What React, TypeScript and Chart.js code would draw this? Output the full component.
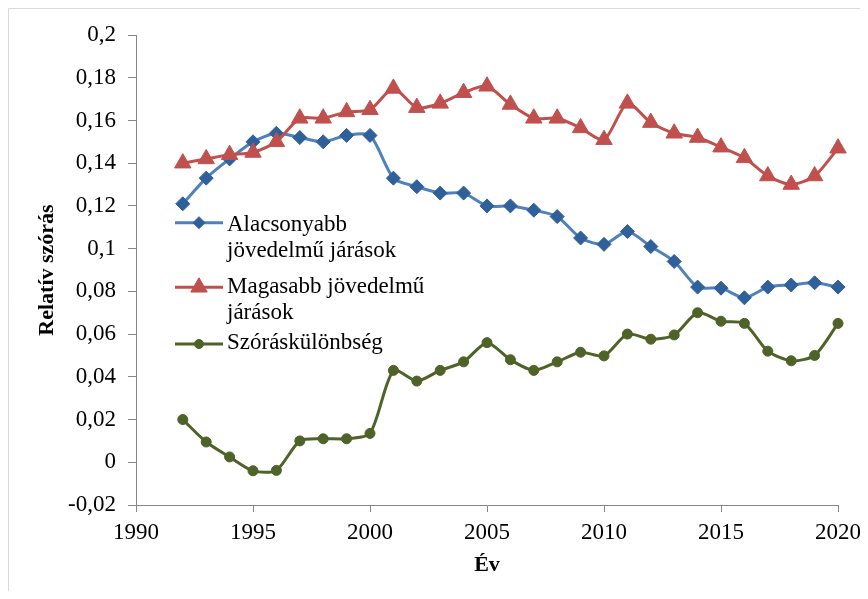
import React, { useEffect, useRef } from 'react';
import { Chart, registerables } from 'chart.js';
import { drawPoint } from 'chart.js/helpers';

Chart.register(...registerables);

const SERIF = "'Liberation Serif', 'Times New Roman', Times, serif";

const years = [
  1992, 1993, 1994, 1995, 1996, 1997, 1998, 1999, 2000, 2001,
  2002, 2003, 2004, 2005, 2006, 2007, 2008, 2009, 2010, 2011,
  2012, 2013, 2014, 2015, 2016, 2017, 2018, 2019, 2020,
];

const lowIncome = [
  0.121, 0.133, 0.142, 0.150, 0.154, 0.152, 0.150, 0.153, 0.153, 0.133,
  0.129, 0.126, 0.126, 0.120, 0.120, 0.118, 0.115, 0.105, 0.102, 0.108,
  0.101, 0.094, 0.082, 0.0815, 0.077, 0.082, 0.083, 0.084, 0.082,
];

const highIncome = [
  0.140, 0.142, 0.144, 0.145, 0.150, 0.161, 0.161, 0.164, 0.165, 0.175,
  0.166, 0.168, 0.173, 0.176, 0.1675, 0.161, 0.161, 0.1565, 0.151, 0.168,
  0.159, 0.154, 0.152, 0.1475, 0.1425, 0.134, 0.130, 0.134, 0.147,
];

const spreadDiff = [
  0.020, 0.0095, 0.0025, -0.004, -0.0038, 0.010, 0.011, 0.011, 0.0135, 0.043,
  0.038, 0.043, 0.047, 0.056, 0.048, 0.043, 0.047, 0.0515, 0.0498, 0.060,
  0.0576, 0.0596, 0.070, 0.066, 0.065, 0.052, 0.0475, 0.050, 0.065,
];

const seriesLabels = [
  ['Alacsonyabb', 'jövedelmű járások'],
  ['Magasabb jövedelmű', 'járások'],
  ['Szóráskülönbség'],
];

const xTitle = 'Év';
const yTitle = 'Relatív szórás';

const toPoints = (vals: number[]) => vals.map((v, i) => ({ x: years[i], y: v }));

const fmtComma = (v: number) => {
  const n = Number(Number(v).toFixed(2));
  return (Object.is(n, -0) ? 0 : n).toString().replace('.', ',');
};

// legend layout, relative to chart area
const legendLayout = [
  { lineY: 187.7, textY: 195.7 },
  { lineY: 252.3, textY: 257.7 },
  { lineY: 309, textY: 314.3 },
];

const insideLegend = {
  id: 'insideLegend',
  afterDraw(chart: any) {
    const { ctx, chartArea } = chart;
    chart.data.datasets.forEach((ds: any, i: number) => {
      const lay = legendLayout[i];
      const x0 = chartArea.left + 39;
      const x1 = chartArea.left + 87;
      const y = chartArea.top + lay.lineY;
      ctx.save();
      ctx.strokeStyle = ds.borderColor;
      ctx.lineWidth = ds.borderWidth;
      ctx.beginPath();
      ctx.moveTo(x0, y);
      ctx.lineTo(x1, y);
      ctx.stroke();
      ctx.fillStyle = ds.pointBackgroundColor;
      ctx.strokeStyle = ds.pointBorderColor;
      ctx.lineWidth = 1;
      drawPoint(ctx, { pointStyle: ds.pointStyle, radius: ds.legendRadius, rotation: 0, borderWidth: 1 }, (x0 + x1) / 2, y);
      ctx.fillStyle = '#000';
      ctx.font = `23px ${SERIF}`;
      ctx.textBaseline = 'alphabetic';
      ctx.textAlign = 'left';
      seriesLabels[i].forEach((line, j) => {
        ctx.fillText(line, chartArea.left + 91, chartArea.top + lay.textY + j * 26.5);
      });
      ctx.restore();
    });
  },
};

const frame = {
  id: 'frame',
  beforeDraw(chart: any) {
    const { ctx, width, height } = chart;
    ctx.save();
    ctx.fillStyle = '#fff';
    ctx.fillRect(0, 0, width, height);
    ctx.strokeStyle = '#d9d9d9';
    ctx.lineWidth = 1;
    ctx.beginPath();
    ctx.moveTo(0.5, height);
    ctx.lineTo(0.5, 0.5);
    ctx.lineTo(width, 0.5);
    ctx.stroke();
    ctx.restore();
  },
};

export default function App() {
  const ref = useRef<HTMLCanvasElement>(null);
  useEffect(() => {
    document.body.style.overflow = 'hidden';
    const axisColor = '#868686';
    const chart = new Chart(ref.current as HTMLCanvasElement, {
      type: 'line',
      data: {
        datasets: [
          {
            label: seriesLabels[0].join(' '),
            data: toPoints(lowIncome),
            borderColor: '#4F81BD',
            borderWidth: 3,
            pointStyle: 'rectRot',
            pointRadius: 7,
            pointBackgroundColor: '#30609A',
            pointBorderColor: '#30609A',
            pointBorderWidth: 1,
            tension: 0.25,
            clip: false,
            order: 3,
            legendRadius: 6,
          } as any,
          {
            label: seriesLabels[1].join(' '),
            data: toPoints(highIncome),
            borderColor: '#C0504D',
            borderWidth: 3,
            pointStyle: 'triangle',
            pointRadius: 9.5,
            pointBackgroundColor: '#C0504D',
            pointBorderColor: '#C0504D',
            pointBorderWidth: 1,
            tension: 0.25,
            clip: false,
            order: 2,
            legendRadius: 9.5,
          } as any,
          {
            label: seriesLabels[2].join(' '),
            data: toPoints(spreadDiff),
            borderColor: '#4F6228',
            borderWidth: 3,
            pointStyle: 'circle',
            pointRadius: 5,
            pointBackgroundColor: '#4F6228',
            pointBorderColor: '#4F6228',
            pointBorderWidth: 1,
            tension: 0.25,
            clip: false,
            order: 1,
            legendRadius: 4.5,
          } as any,
        ],
      },
      options: {
        animation: false,
        responsive: false,
        events: [],
        layout: { padding: { top: 27, right: 30, bottom: 0, left: 0 } },
        plugins: {
          legend: { display: false },
          tooltip: { enabled: false },
        },
        scales: {
          x: {
            type: 'linear',
            min: 1990,
            max: 2020,
            ticks: {
              stepSize: 5,
              color: '#000',
              padding: 7,
              font: { family: SERIF, size: 23 },
              callback: (v: any) => String(v),
            },
            grid: { display: true, drawOnChartArea: false, drawTicks: true, tickLength: 7, color: axisColor },
            border: { display: true, color: axisColor, width: 1 },
            title: {
              display: true,
              text: xTitle,
              color: '#000',
              font: { family: SERIF, size: 22, weight: 'bold' },
              padding: { top: 0, bottom: 12 },
            },
            afterFit: (s: any) => { s.height = 86; },
          },
          y: {
            min: -0.02,
            max: 0.2,
            ticks: {
              stepSize: 0.02,
              color: '#000',
              padding: 12,
              font: { family: SERIF, size: 23 },
              callback: (v: any) => fmtComma(v),
            },
            grid: { display: true, drawOnChartArea: false, drawTicks: true, tickLength: 8, color: axisColor },
            border: { display: true, color: axisColor, width: 1 },
            title: {
              display: true,
              text: yTitle,
              color: '#000',
              font: { family: SERIF, size: 22, weight: 'bold' },
              padding: { top: 26, bottom: 0 },
            },
            afterFit: (s: any) => { s.width = 128; },
          },
        },
      } as any,
      plugins: [frame, insideLegend],
    });
    return () => chart.destroy();
  }, []);
  return (
    <div style={{ width: 860, height: 583 }}>
      <canvas ref={ref} width={860} height={583} style={{ display: 'block', width: 860, height: 583 }} />
    </div>
  );
}
